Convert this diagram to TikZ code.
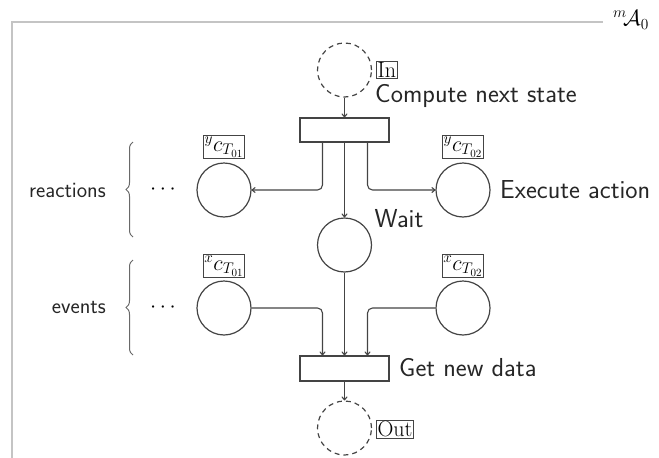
\RequirePackage{fix-cm}
\documentclass[tikz,border=0pt]{standalone}
\usepackage{fontspec}
\usetikzlibrary{arrows.meta,decorations.pathreplacing}
\definecolor{ink}{HTML}{444444}
\definecolor{frame}{HTML}{C4C4C4}
\newcommand{\bigsans}{\sffamily\fontsize{26}{30}\selectfont}
\newcommand{\sidesans}{\sffamily\fontsize{22}{26}\selectfont}
\newcommand{\tagfont}{\fontsize{22}{25}\selectfont}
\begin{document}
\begin{tikzpicture}[x=1pt,y=-1pt,
  place/.style={circle,draw=ink,line width=1.2pt,minimum size=54pt,inner sep=0pt},
  hole/.style={place,dashed,dash pattern=on 5pt off 4pt},
  trans/.style={rectangle,draw=ink,line width=1.2pt,minimum width=89pt,minimum height=24pt,inner sep=0pt},
  tagbox/.style={draw=ink,line width=0.8pt,inner sep=1.2pt,font=\tagfont},
  lbl/.style={font=\bigsans,text=black!85,inner sep=0pt},
  side/.style={font=\sidesans,text=black!85,inner sep=0pt},
  arc/.style={draw=ink,line width=1.1pt,-{To[length=4pt,width=6pt]},rounded corners=5pt},
  bracestyle/.style={draw=ink!80,line width=1pt,decorate,decoration={brace,amplitude=7pt}}]
\useasboundingbox (0,0) rectangle (659,458);

% frame of the module
\draw[frame,line width=2pt] (12,458) -- (12,22) -- (603,22);
\node[font=\fontsize{22}{26}\selectfont,inner sep=0pt] (mod) at (631,20) {${}^{m}\!\mathcal{A}_0$};

% places and transitions
\node[hole] (in) at (344.5,70) {};
\node[trans] (t1) at (344.5,130) {};
\node[place] (yc1) at (224,190) {};
\node[place] (yc2) at (463,190) {};
\node[place] (wait) at (344.5,245) {};
\node[place] (xc1) at (224,308) {};
\node[place] (xc2) at (463,308) {};
\node[trans,minimum height=25pt] (t2) at (344.5,368.5) {};
\node[hole] (out) at (344.5,428) {};

% labels
\node[tagbox,anchor=west] (inlbl) at (376,70) {In};
\node[lbl,anchor=west] (compute) at (375,96) {Compute next state};
\node[tagbox] (yc1lbl) at (224,147) {${}^{y}c_{T_{01}}$};
\node[tagbox] (yc2lbl) at (463,147) {${}^{y}c_{T_{02}}$};
\node[lbl,anchor=west] (exec) at (500,190) {Execute action};
\node[lbl] (waitlbl) at (399,219) {Wait};
\node[tagbox] (xc1lbl) at (224,266) {${}^{x}c_{T_{01}}$};
\node[tagbox] (xc2lbl) at (463,266) {${}^{x}c_{T_{02}}$};
\node[lbl,anchor=west] (getnew) at (399,368) {Get new data};
\node[tagbox,anchor=west] (outlbl) at (376,429) {Out};

% side groups
\node[side,anchor=east] (reac) at (106,190) {reactions};
\node[side,anchor=east] (evts) at (106,308) {events};
\node[font=\fontsize{22}{26}\selectfont] (dots1) at (163,190) {$\cdots$};
\node[font=\fontsize{22}{26}\selectfont] (dots2) at (163,308) {$\cdots$};
\coordinate (b1a) at (133,237);
\coordinate (b1b) at (133,142);
\coordinate (b2a) at (133,355);
\coordinate (b2b) at (133,260);
\draw[bracestyle] (b1a) -- (b1b);
\draw[bracestyle] (b2a) -- (b2b);

% connectors
\draw[arc] (in) -- (t1);
\draw[arc] ([xshift=-22pt]t1.south) |- (yc1);
\draw[arc] ([xshift=23pt]t1.south) |- (yc2);
\draw[arc] (t1) -- (wait);
\draw[arc] (wait) -- (t2);
\draw[arc] (xc1) -| ([xshift=-22pt]t2.north);
\draw[arc] (xc2) -| ([xshift=23pt]t2.north);
\draw[arc] (t2) -- (out);
\end{tikzpicture}
\end{document}
